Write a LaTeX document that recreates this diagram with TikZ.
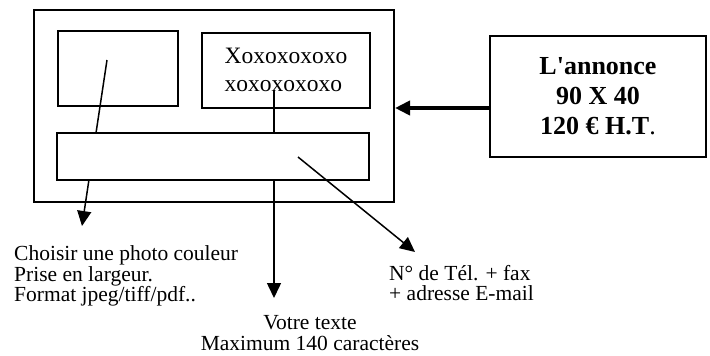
\documentclass[tikz,border=0pt]{standalone}
\usepackage{fontspec}
\setmainfont{Liberation Serif}
\usetikzlibrary{arrows.meta,positioning}

\begin{document}
\begin{tikzpicture}[x=1pt,y=-1pt,
    boite/.style={draw,line width=2pt,inner sep=0pt},
    fleche/.style={line width=1.5pt,-{Triangle[length=15pt,width=14pt]}},
    legende/.style={inner sep=0pt,font=\fontsize{21.5}{20.5}\selectfont}]
    \useasboundingbox (0,0) rectangle (710,356);

    \node[boite,minimum width=360pt,minimum height=192pt] (cadre) at (214,106) {};
    \node[boite,minimum width=120pt,minimum height=75pt] (photo) at (118,68.5) {};
    \node[boite,minimum width=168pt,minimum height=75pt,align=left,
          font=\fontsize{23.5}{28}\selectfont] (texte) at (286,70) {Xoxoxoxoxo\\xoxoxoxoxo};

    \node[boite,minimum width=216pt,minimum height=121pt,align=center,
          font=\bfseries\fontsize{26}{30}\selectfont] (annonce) at (598,96.5)
          {L\textquotesingle annonce\\90 X 40\\120 € H.T\mdseries.};

    \coordinate (dep1) at (107,60);
    \coordinate (fin1) at (82,226);
    \coordinate (dep2) at (274,90);
    \coordinate (fin2) at (274,298);
    \coordinate (dep3) at (298,157);
    \coordinate (fin3) at (415,252);

    \foreach \from/\to in {dep1/fin1,dep2/fin2}
        \draw[fleche] (\from)--(\to);

    \node[boite,fill=white,minimum width=312pt,minimum height=47pt] (bande) at (213,156.5) {};
    \draw[fleche] (dep3)--(fin3);

    \draw[line width=4pt,-{Triangle[length=15pt,width=14pt]}]
        ([yshift=-11.5pt]annonce.west) -- ([yshift=-11.5pt]annonce.west -| cadre.east);

    \node[legende,anchor=west,align=left] (photolab) at (14,276)
        {Choisir une photo couleur\\Prise en largeur.\\Format jpeg/tiff/pdf..};
    \node[legende,align=center] (textelab) at (310,333)
        {Votre texte\\Maximum 140 caractères};
    \node[legende,anchor=west,align=left] (tellab) at (389,283)
        {N° de Tél. + fax\\+ adresse E-mail};
\end{tikzpicture}
\end{document}
